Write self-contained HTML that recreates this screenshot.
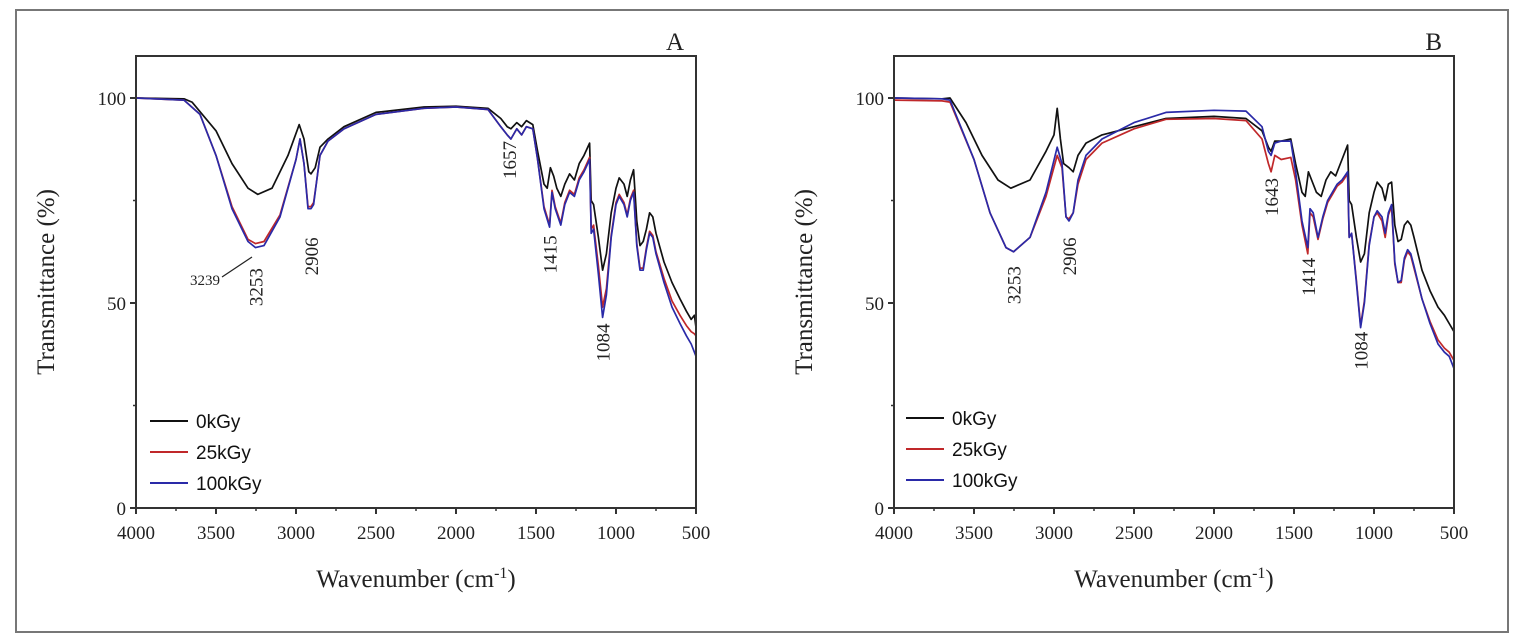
<!DOCTYPE html>
<html><head><meta charset="utf-8"><style>
body{margin:0;background:#fff}
svg{display:block;font-family:"Liberation Serif",serif}
</style></head><body>
<svg id="fig" width="1521" height="637" viewBox="0 0 1521 637">
<rect x="16" y="10" width="1492" height="622" fill="none" stroke="#777" stroke-width="2"/>
</svg>
<script>
const xTicks=[4000,3500,3000,2500,2000,1500,1000,500];
const yTicks=[0,50,100];
const seriesNames=["0kGy","25kGy","100kGy"];
const seriesColors=["#111","#c0282a","#2a2aa8"];
const A_0kGy=[[4000,100],[3700,99.8],[3650,99],[3500,92],[3400,84],[3300,78],[3239,76.5],[3150,78],[3050,86],[2980,93.5],[2950,90],[2920,82],[2906,81.5],[2880,83],[2850,88],[2800,90],[2700,93],[2500,96.5],[2200,97.8],[2000,98],[1800,97.5],[1720,95],[1680,93],[1657,92.5],[1620,94],[1590,93],[1560,94.5],[1520,93.5],[1490,87],[1450,79],[1430,78],[1410,83],[1390,81],[1370,78],[1345,76],[1320,79],[1290,81.5],[1260,80],[1230,84],[1200,86],[1165,89],[1155,75],[1140,74],[1110,66],[1084,58],[1060,62],[1030,72],[1000,78],[980,80.5],[950,79],[930,76],[910,80],[890,82.5],[870,70],[850,64],[830,65],[810,68],[790,72],[770,71],[750,67],[700,60],[650,55],[600,51],[560,48],[530,46],[510,47],[500,44]];
const A_25kGy=[[4000,100],[3700,99.5],[3600,96],[3500,86],[3400,73.5],[3300,65.5],[3253,64.5],[3200,65],[3100,71.5],[3000,85],[2975,90],[2950,84],[2925,73.5],[2906,73.5],[2890,74.5],[2870,80],[2850,86],[2800,89.5],[2700,92.5],[2500,96],[2200,97.5],[2000,97.8],[1800,97.2],[1720,93],[1680,91],[1657,90],[1620,92.5],[1590,91],[1560,93],[1520,92.5],[1490,85],[1450,73.5],[1415,69],[1400,77.5],[1380,73.5],[1345,69.5],[1320,74.5],[1290,77.5],[1260,76.5],[1230,80.5],[1200,82.5],[1165,85.5],[1155,68],[1140,69],[1110,59],[1084,49],[1060,53.5],[1030,66.5],[1000,74.5],[980,76.5],[950,74.5],[930,71.5],[910,75.5],[890,77.5],[870,64.5],[850,58.5],[830,58.5],[810,63.5],[790,67.5],[770,66.5],[750,62.5],[700,56],[650,50.5],[600,47],[560,44.5],[530,43],[510,42.5],[500,42]];
const A_100kGy=[[4000,100],[3700,99.5],[3600,96],[3500,86],[3400,73],[3300,65],[3253,63.5],[3200,64],[3100,71],[3000,85],[2975,90],[2950,84],[2925,73],[2906,73],[2890,74],[2870,80],[2850,86],[2800,89.5],[2700,92.5],[2500,96],[2200,97.5],[2000,97.8],[1800,97.2],[1720,93],[1680,91],[1657,90],[1620,92.5],[1590,91],[1560,93],[1520,92.5],[1490,85],[1450,73],[1415,68.5],[1400,77],[1380,73],[1345,69],[1320,74],[1290,77],[1260,76],[1230,80],[1200,82],[1165,85],[1155,67],[1140,68],[1110,57],[1084,46.5],[1060,52],[1030,66],[1000,74],[980,76],[950,74],[930,71],[910,75],[890,77],[870,64],[850,58],[830,58],[810,63],[790,67],[770,66],[750,62],[700,55],[650,49],[600,45],[560,42],[530,40],[510,38],[500,37]];
const B_0kGy=[[4000,100],[3700,99.8],[3650,100],[3550,94],[3450,86],[3350,80],[3270,78],[3150,80],[3050,87],[3000,91],[2980,97.5],[2960,90],[2940,84],[2906,83],[2880,82],[2850,86],[2800,89],[2700,91],[2500,93],[2300,95],[2000,95.5],[1800,95],[1700,92],[1660,88],[1643,87],[1620,89.5],[1580,89.5],[1520,90],[1490,84],[1450,77],[1430,76],[1410,82],[1390,80],[1360,77],[1330,76],[1300,80],[1270,82],[1240,81],[1200,85],[1165,88.5],[1155,75],[1140,74],[1110,66],[1084,60],[1060,62],[1030,72],[1000,77],[980,79.5],[950,78],[930,75],[910,79],[890,79.5],[870,69],[850,65],[830,65.5],[810,69],[790,70],[770,69],[750,66],[700,58],[650,53],[600,49],[560,47],[530,45],[500,43]];
const B_25kGy=[[4000,99.5],[3700,99.3],[3650,99],[3500,85],[3400,72],[3300,63.5],[3253,62.5],[3150,66],[3050,76],[2980,86],[2950,83],[2925,71],[2906,70.5],[2880,72],[2850,79],[2800,85],[2700,89],[2500,92.5],[2300,94.8],[2000,95],[1800,94.5],[1700,90],[1660,84],[1643,82],[1620,86],[1580,85],[1520,85.5],[1490,80],[1450,69],[1414,62],[1400,72],[1380,71],[1350,65.5],[1320,70.5],[1290,74.5],[1260,76.5],[1230,78.5],[1200,79.5],[1165,81.5],[1155,66],[1140,67],[1110,55.5],[1084,44.5],[1060,50.5],[1030,64.5],[1000,71],[980,72],[950,70],[930,66],[910,71.5],[890,73.5],[870,59.5],[850,55],[830,55],[810,60.5],[790,62.5],[770,61.5],[750,58.5],[700,51],[650,45.5],[600,41],[560,39],[530,38],[500,36]];
const B_100kGy=[[4000,100],[3700,99.8],[3650,99.5],[3500,85],[3400,72],[3300,63.5],[3253,62.5],[3150,66],[3050,77],[2980,88],[2950,84],[2925,71],[2906,70],[2880,72],[2850,80],[2800,86],[2700,90],[2500,94],[2300,96.5],[2000,97],[1800,96.8],[1700,93],[1660,87],[1643,86],[1620,89],[1580,89.5],[1520,89.5],[1490,82],[1450,70],[1414,63.5],[1400,73],[1380,72],[1350,66],[1320,71],[1290,75],[1260,77],[1230,79],[1200,80],[1165,82],[1155,66],[1140,67],[1110,55],[1084,44],[1060,50],[1030,64],[1000,71],[980,72.5],[950,71],[930,67],[910,72],[890,74],[870,60],[850,55],[830,55.5],[810,61],[790,63],[770,62],[750,59],[700,51],[650,45],[600,40],[560,38],[530,37],[500,34]];
const annA=[["3253",3253,58.5],["2906",2906,66],["1657",1670,89.5],["1415",1415,66.5],["1084",1084,45]];
const annB=[["3253",3253,59],["2906",2906,66],["1643",1643,80.5],["1414",1414,61],["1084",1084,43]];

const NS="http://www.w3.org/2000/svg";
const svg=document.getElementById('fig');
function mk(tag,attrs,parent){const e=document.createElementNS(NS,tag);for(const k in attrs)e.setAttribute(k,attrs[k]);(parent||svg).appendChild(e);return e;}

function panel(id,left,letter,series,ann,legendX,legendY,extra){
  const right=left+560,top=56,bottom=508;
  const xs=w=>left+(4000-w)*(right-left)/3500;
  const ys=t=>bottom-t*(bottom-98)/100;
  const g=mk('g',{});
  
  
  series.forEach((s,i)=>{
    const p=mk('path',{d:s.map((q,j)=>(j?'L':'M')+xs(q[0]).toFixed(1)+','+ys(q[1]).toFixed(1)).join(''),fill:'none',stroke:seriesColors[i],'stroke-width':1.7,'stroke-linejoin':'round'},g);
    
    
  });
  const fr=mk('rect',{x:left,y:top,width:right-left,height:bottom-top,fill:'none',stroke:'#333','stroke-width':2},g);
  
  
  xTicks.forEach(w=>{
    mk('line',{x1:xs(w),x2:xs(w),y1:bottom,y2:bottom+6,stroke:'#333','stroke-width':2},g);
    const t=mk('text',{x:xs(w),y:bottom+31,'text-anchor':'middle','font-size':19,fill:'#222'},g);
    t.textContent=w;
    
    
  });
  for(let w=3750;w>500;w-=500) mk('line',{x1:xs(w),x2:xs(w),y1:bottom,y2:bottom+3,stroke:'#333','stroke-width':1.5},g);
  yTicks.forEach(v=>{
    mk('line',{x1:left-6,x2:left,y1:ys(v),y2:ys(v),stroke:'#333','stroke-width':2},g);
    const t=mk('text',{x:left-10,y:ys(v)+7,'text-anchor':'end','font-size':19,fill:'#222'},g);
    t.textContent=v;
    
    
  });
  [25,75].forEach(v=>mk('line',{x1:left-3,x2:left,y1:ys(v),y2:ys(v),stroke:'#333','stroke-width':1.5},g));
  const yt=mk('text',{x:0,y:0,transform:`translate(${left-82},282) rotate(-90)`,'text-anchor':'middle','font-size':25,fill:'#222'},g);
  yt.textContent='Transmittance (%)';
  
  
  const xt=mk('text',{x:(left+right)/2,y:587,'text-anchor':'middle','font-size':25,fill:'#222'},g);
  xt.innerHTML='Wavenumber (cm<tspan dy="-9" font-size="16">-1</tspan><tspan dy="9">)</tspan>';
  
  
  const lt=mk('text',{x:right-12,y:50,'text-anchor':'end','font-size':25,fill:'#222'},g);
  lt.textContent=letter;
  
  
  ann.forEach(a=>{
    const x=xs(a[1]),y=ys(a[2]);
    const t=mk('text',{x:0,y:0,transform:`translate(${x+7},${y}) rotate(-90)`,'text-anchor':'end','font-size':19,fill:'#222'},g);
    t.textContent=a[0];
    
    
  });
  seriesNames.forEach((n,i)=>{
    const y=legendY+i*31;
    mk('line',{x1:legendX,x2:legendX+38,y1:y,y2:y,stroke:seriesColors[i],'stroke-width':2},g);
    const t=mk('text',{x:legendX+46,y:y+7,'font-size':19,fill:'#111','font-family':'Liberation Sans, sans-serif'},g);
    t.textContent=n;
    
    
  });
  if(extra){
    mk('line',{x1:222,y1:277,x2:252,y2:257,stroke:'#222','stroke-width':1.2},g);
    const t=mk('text',{x:220,y:285,'text-anchor':'end','font-size':15,fill:'#222'},g);
    t.textContent='3239';
    
    
  }
}
panel('a',136,'A',[A_0kGy,A_25kGy,A_100kGy],annA,150,421,true);
panel('b',894,'B',[B_0kGy,B_25kGy,B_100kGy],annB,906,418,false);
</script>
</body></html>
